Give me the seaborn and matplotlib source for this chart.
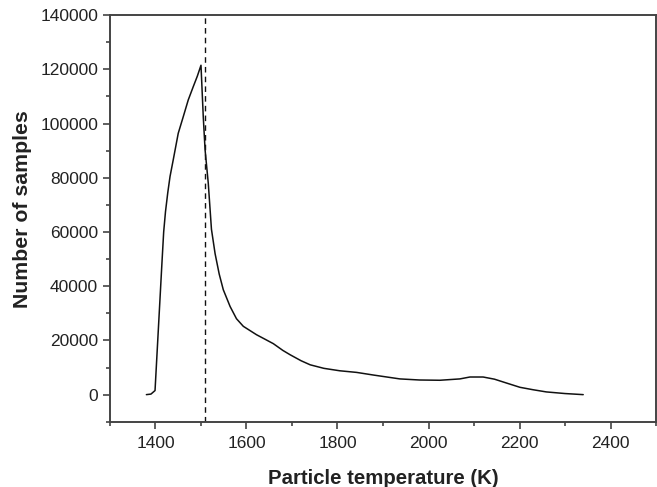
import pandas as pd
import matplotlib
matplotlib.use('Agg')
import matplotlib.pyplot as plt
import seaborn as sns
from matplotlib.ticker import MultipleLocator

# Valeurs
temperature = [1380, 1390, 1399, 1414, 1418, 1422, 1427, 1432, 1439, 1450,
               1461, 1472, 1483, 1492, 1500, 1505, 1509, 1516, 1523, 1531,
               1540, 1549, 1564, 1578, 1593, 1622, 1640, 1659, 1680, 1696,
               1720, 1740, 1770, 1805, 1842, 1880, 1937, 1980, 2025, 2069,
               2091, 2120, 2145, 2171, 2201, 2230, 2259, 2300, 2340]
samples = [0, 200, 1500, 48000, 60000, 67500, 74500, 80500, 86600, 96400,
           102500, 108700, 113600, 117500, 121500, 102500, 90300, 78000, 61000, 52000,
           44500, 38700, 32500, 28000, 25200, 22100, 20500, 18800, 16300, 14700,
           12500, 11000, 9700, 8800, 8200, 7200, 5800, 5400, 5300, 5800,
           6500, 6500, 5700, 4300, 2700, 1800, 1000, 400, 0]
peak_temp = 1508

df = pd.DataFrame({'temperature': temperature, 'samples': samples})

sns.set_style('ticks')
plt.rcParams['font.family'] = ['Liberation Sans', 'DejaVu Sans']

fig = plt.figure(figsize=(6.57, 4.87), dpi=100)
ax = fig.add_axes([0.1674, 0.134, 0.8311, 0.835])

sns.lineplot(data=df, x='temperature', y='samples', color='#111111',
             linewidth=1.1, ax=ax)
ax.axvline(peak_temp, color='#111111', linestyle=(0, (4, 3)), linewidth=1.0)

ax.set_xlim(1300, 2500)
ax.set_ylim(-10000, 140000)
ax.xaxis.set_major_locator(MultipleLocator(200))
ax.xaxis.set_minor_locator(MultipleLocator(100))
ax.yaxis.set_major_locator(MultipleLocator(20000))
ax.yaxis.set_minor_locator(MultipleLocator(10000))
ax.tick_params(which='major', length=5, width=1.2, color='#444444',
               labelsize=12.5, labelcolor='#222222', direction='out')
ax.tick_params(axis='x', which='major', pad=5.5)
ax.tick_params(which='minor', length=3, width=1.2, color='#444444', direction='out')

for s in ax.spines.values():
    s.set_visible(True)
    s.set_color('#444444')
    s.set_linewidth(1.4)

ax.set_xlabel('Particle temperature (K)', fontsize=14.7, fontweight='bold',
              color='#222222', labelpad=13)
ax.set_ylabel('Number of samples', fontsize=15.3, fontweight='bold',
              color='#222222')
ax.yaxis.set_label_coords(-0.142, 0.523)

fig.savefig('out.png', dpi=100)
